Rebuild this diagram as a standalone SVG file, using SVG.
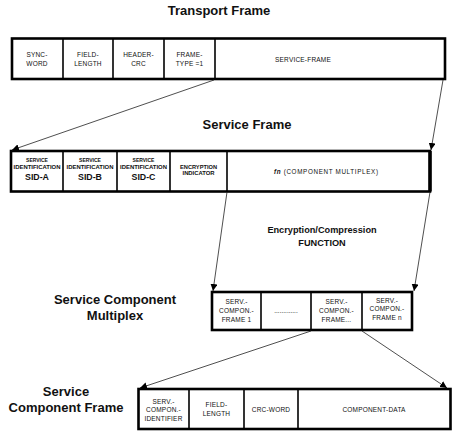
<svg xmlns="http://www.w3.org/2000/svg" width="459" height="440" viewBox="0 0 459 440">
<defs>
<marker id="ah" markerUnits="userSpaceOnUse" markerWidth="8" markerHeight="7" refX="7" refY="3.5" orient="auto">
<path d="M0,0 L7,3.5 L0,7 z" fill="#000"/>
</marker>
<style>
text{font-family:"Liberation Sans",Arial,sans-serif;fill:#111;text-anchor:middle}
.title{font-size:13px;font-weight:bold}
.sub{font-size:9.2px;font-weight:bold}
.c{font-size:6.5px;letter-spacing:0.2px}
.sm{font-size:5px;font-weight:bold}
.sid{font-size:8.8px;font-weight:bold}
.outer{fill:#fff;stroke:#000;stroke-width:2.6}
.div{stroke:#000;stroke-width:1.6}
.conn{stroke:#222;stroke-width:0.8;fill:none;marker-end:url(#ah)}
</style>
</defs>
<rect width="459" height="440" fill="#fff"/>

<text class="title" x="219" y="14.5">Transport Frame</text>
<text class="title" x="247" y="128.5">Service Frame</text>
<text class="sub" x="322" y="232.5">Encryption/Compression</text>
<text class="sub" x="322" y="245.5">FUNCTION</text>
<text class="title" x="115" y="304">Service Component</text>
<text class="title" x="115" y="319.5">Multiplex</text>
<text class="title" x="66" y="395.5">Service</text>
<text class="title" x="66" y="411.5">Component Frame</text>

<g id="transport-frame">
<rect class="outer" x="12" y="38.5" width="433" height="40.5"/>
<line class="div" x1="63" y1="38.5" x2="63" y2="79"/>
<line class="div" x1="113" y1="38.5" x2="113" y2="79"/>
<line class="div" x1="164" y1="38.5" x2="164" y2="79"/>
<line class="div" x1="215" y1="38.5" x2="215" y2="79"/>
<text class="c" x="37" y="56.5">SYNC-</text>
<text class="c" x="37" y="65.5">WORD</text>
<text class="c" x="88" y="56.5">FIELD-</text>
<text class="c" x="88" y="65.5">LENGTH</text>
<text class="c" x="138.5" y="56.5">HEADER-</text>
<text class="c" x="138.5" y="65.5">CRC</text>
<text class="c" x="189.5" y="57">FRAME-</text>
<text class="c" x="189.5" y="66">TYPE =1</text>
<text class="c" x="303" y="61.5">SERVICE-FRAME</text>
</g>

<g id="service-frame">
<rect class="outer" x="11" y="151" width="419" height="40.5"/>
<line x1="430" y1="151" x2="430" y2="191.5" stroke="#000" stroke-width="3.5"/>
<line class="div" x1="63" y1="151" x2="63" y2="191.5"/>
<line class="div" x1="117" y1="151" x2="117" y2="191.5"/>
<line class="div" x1="170" y1="151" x2="170" y2="191.5"/>
<line class="div" x1="227" y1="151" x2="227" y2="191.5"/>
<text class="sm" x="37" y="162">SERVICE</text>
<text class="sm" x="37" y="169" textLength="47" lengthAdjust="spacingAndGlyphs">IDENTIFICATION</text>
<text class="sid" x="37" y="179.5">SID-A</text>
<text class="sm" x="90" y="162">SERVICE</text>
<text class="sm" x="90" y="169" textLength="47" lengthAdjust="spacingAndGlyphs">IDENTIFICATION</text>
<text class="sid" x="90" y="179.5">SID-B</text>
<text class="sm" x="143.5" y="162">SERVICE</text>
<text class="sm" x="143.5" y="169" textLength="47" lengthAdjust="spacingAndGlyphs">IDENTIFICATION</text>
<text class="sid" x="143.5" y="179.5">SID-C</text>
<text class="sm" x="198.5" y="168.5" textLength="37" lengthAdjust="spacingAndGlyphs">ENCRYPTION</text>
<text class="sm" x="198.5" y="175" textLength="32" lengthAdjust="spacingAndGlyphs">INDICATOR</text>
<text x="326" y="173.5" font-size="6.3" textLength="104" lengthAdjust="spacing"><tspan font-weight="bold" font-style="italic">fn</tspan> (COMPONENT MULTIPLEX)</text>
</g>

<g id="service-component-multiplex">
<rect class="outer" x="212" y="292" width="200" height="38"/>
<line class="div" x1="261" y1="292" x2="261" y2="330"/>
<line class="div" x1="311" y1="292" x2="311" y2="330"/>
<line class="div" x1="362" y1="292" x2="362" y2="330"/>
<text class="c" x="236.5" y="304">SERV.-</text>
<text class="c" x="236.5" y="313">COMPON.-</text>
<text class="c" x="236.5" y="322">FRAME 1</text>
<text x="286" y="313" font-size="6.5" fill="#555">.............</text>
<text class="c" x="336.5" y="304">SERV.-</text>
<text class="c" x="336.5" y="313">COMPON.-</text>
<text class="c" x="336.5" y="322">FRAME...</text>
<text class="c" x="387" y="302.5">SERV.-</text>
<text class="c" x="387" y="311">COMPON.-</text>
<text class="c" x="387" y="319.5">FRAME n</text>
</g>

<g id="service-component-frame">
<rect class="outer" x="138.5" y="389" width="312" height="40"/>
<line class="div" x1="189" y1="389" x2="189" y2="429"/>
<line class="div" x1="244" y1="389" x2="244" y2="429"/>
<line class="div" x1="298" y1="389" x2="298" y2="429"/>
<text class="c" x="163.5" y="404">SERV.-</text>
<text class="c" x="163.5" y="412.3">COMPON.-</text>
<text class="c" x="163.5" y="421">IDENTIFIER</text>
<text class="c" x="216.5" y="407.3">FIELD-</text>
<text class="c" x="216.5" y="416">LENGTH</text>
<text class="c" x="271" y="411.7">CRC-WORD</text>
<text class="c" x="374" y="411.7">COMPONENT-DATA</text>
</g>

<g id="connectors">
<line class="conn" x1="214" y1="80" x2="12" y2="150"/>
<line class="conn" x1="443" y1="80" x2="431" y2="150"/>
<line class="conn" x1="227" y1="192" x2="213" y2="291"/>
<line class="conn" x1="430" y1="192" x2="414" y2="291"/>
<line class="conn" x1="311" y1="331" x2="140" y2="388"/>
<line class="conn" x1="362" y1="331" x2="447" y2="388"/>
</g>
</svg>
